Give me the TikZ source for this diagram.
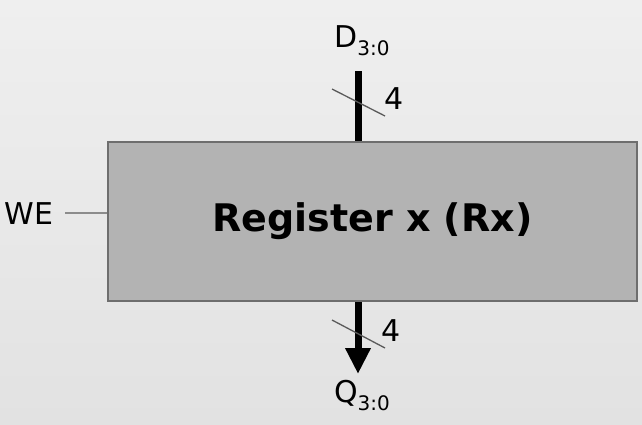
\documentclass[tikz,border=0pt]{standalone}
\usepackage{fontspec}
\setmainfont{DejaVu Sans}
\usetikzlibrary{arrows.meta}
\definecolor{bgtop}{HTML}{EFEFEF}
\definecolor{bgbot}{HTML}{E2E2E2}
\definecolor{boxfill}{HTML}{B3B3B3}
\definecolor{boxline}{HTML}{6E6E6E}
\definecolor{thinline}{HTML}{8C8C8C}
\definecolor{slashcol}{HTML}{5A5A5A}
\tikzset{
  lbl/.style={inner sep=0pt, font=\fontsize{30}{36}\selectfont, text=black},
  bus/.style={line width=7pt, black},
  slash/.style={line width=1.3pt, slashcol},
  regbox/.style={draw=boxline, line width=2pt, fill=boxfill, minimum width=529pt, minimum height=159pt, inner sep=0pt, font=\bfseries\fontsize{38}{44}\selectfont}
}
\newcommand{\subsc}[1]{\raisebox{-0.27em}{\fontsize{20}{24}\selectfont #1}}
\begin{document}
\begin{tikzpicture}[x=1pt,y=-1pt]
\useasboundingbox (0,0) rectangle (642,424);
\shade[top color=bgtop, bottom color=bgbot] (0,0) rectangle (642,424);
\node[regbox] (reg) at (372.5,221.5) {Register x (Rx)};
\node[lbl, anchor=base] (dlab) at (362,47) {D\subsc{3:0}};
\node[lbl, anchor=base] (qlab) at (362,402) {Q\subsc{3:0}};
\node[lbl, anchor=center] (we) at (29,214) {WE};
\coordinate (din) at (358,71);
\coordinate (qout) at (358,374);
\coordinate (wein) at (65,213);
\draw[thinline, line width=1.5pt] (wein) -- (wein -| reg.west);
\draw[bus] (din) -- (din |- reg.north);
\draw[bus, -{Triangle[width=24pt,length=26pt]}] (qout |- reg.south) -- (qout);
\coordinate (s1a) at (332,89); \coordinate (s1b) at (385,116);
\coordinate (s2a) at (332,320); \coordinate (s2b) at (385,348);
\draw[slash] (s1a) -- (s1b);
\draw[slash] (s2a) -- (s2b);
\node[lbl, anchor=center] (w1) at (394,99) {4};
\node[lbl, anchor=center] (w2) at (391,331) {4};
\end{tikzpicture}
\end{document}
